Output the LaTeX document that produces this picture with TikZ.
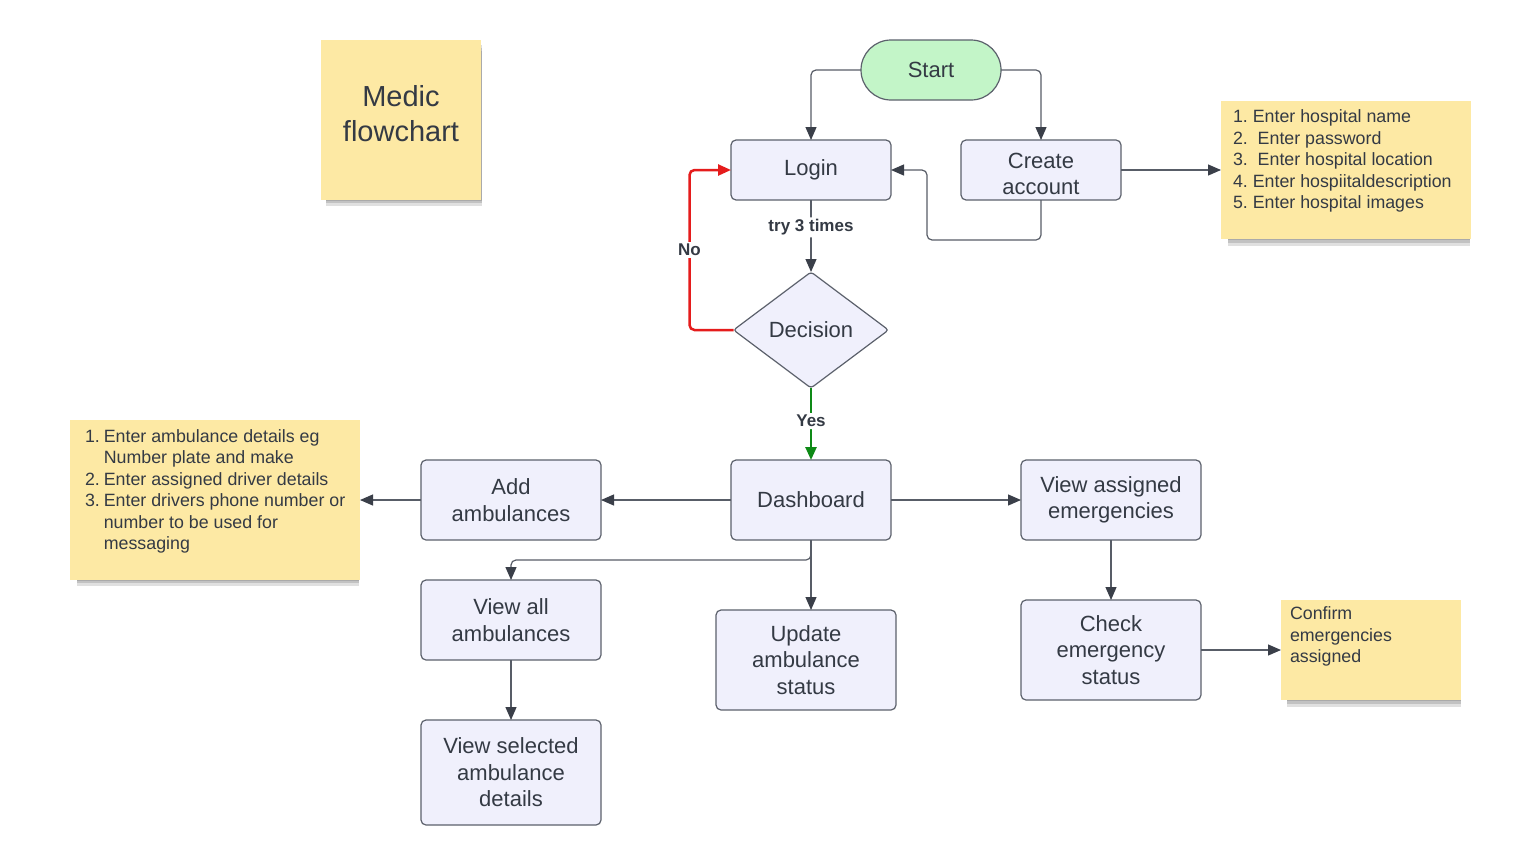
\documentclass[tikz,border=0pt]{standalone}
\usepackage{fontspec}
\setmainfont{Liberation Sans}
\usetikzlibrary{arrows.meta,positioning,shapes.geometric,shadows}
\definecolor{boxfill}{HTML}{F0F0FC}
\definecolor{boxline}{HTML}{5C616C}
\definecolor{lineclr}{HTML}{585D67}
\definecolor{tipclr}{HTML}{3A3F49}
\definecolor{textgray}{HTML}{343A44}
\definecolor{notefill}{HTML}{FDE9A4}
\definecolor{startfill}{HTML}{C3F5C8}
\definecolor{noline}{HTML}{E51C1C}
\definecolor{yesline}{HTML}{0E8A16}

\begin{document}
\begin{tikzpicture}[x=1pt,y=-1pt,>={Triangle[length=13pt,width=11pt,color=tipclr]},line width=1.2pt,
    main node/.style={rectangle,rounded corners=5pt,draw=boxline,fill=boxfill,text=textgray,outer sep=0pt,
      minimum width=180pt,minimum height=80pt,align=center,font=\fontsize{22}{26.5}\selectfont},
    start node/.style={main node,rounded corners=30pt,fill=startfill,minimum width=140pt,minimum height=60pt},
    decision node/.style={diamond,rounded corners=3pt,draw=boxline,fill=boxfill,text=textgray,outer sep=0pt,
      inner sep=0pt,minimum width=155pt,minimum height=116pt,font=\fontsize{22}{26.5}\selectfont},
    note node/.style={rectangle,fill=notefill,text=textgray,outer sep=0pt,inner xsep=12pt,inner ysep=7pt,
      font=\fontsize{17.8}{21.5}\selectfont,
      general shadow={shadow xshift=3pt,shadow yshift=-3pt,shadow scale=0.97,opacity=0.17,fill=black!80},
      general shadow={shadow xshift=3pt,shadow yshift=-6pt,shadow scale=0.97,opacity=0.17,fill=black!80},
      general shadow={shadow xshift=3pt,shadow yshift=-9pt,shadow scale=0.97,opacity=0.15,fill=black!80}},
    label node/.style={fill=white,text=textgray,inner sep=2pt,font=\fontsize{17}{20}\selectfont\bfseries},
    link/.style={draw=lineclr,->,rounded corners=5pt},
    bold link/.style={link,line width=2.5pt,-{Triangle[length=13pt,width=11pt]}}]
  \fill[white] (0,0) rectangle (1538,865);
  \useasboundingbox (0,0) rectangle (1538,865);

  \node[start node] (1) at (931,70) {Start};
  \node[main node,minimum width=160pt,minimum height=60pt] (2) at (811,170) {Login};
  \node[main node,minimum width=160pt,minimum height=60pt] (3) [right=70pt of 2]
    {\raisebox{-6pt}[\height][\depth]{\begin{tabular}{@{}c@{}}Create\\account\end{tabular}}};
  \node[decision node] (4) [below=72pt of 2] {Decision};
  \node[main node,minimum width=160pt] (5) [below=72pt of 4] {Dashboard};
  \node[main node] (6) [left=130pt of 5] {Add\\ambulances};
  \node[main node] (7) [right=130pt of 5] {View assigned\\emergencies};
  \node[main node] (8) [below=40pt of 6] {View all\\ambulances};
  \node[main node,minimum height=100pt] (9) at (806,660) {Update\\ambulance\\status};
  \node[main node,minimum height=105pt] (10) [below=60pt of 8] {View selected\\ambulance\\details};
  \node[main node,minimum height=100pt] (11) [below=60pt of 7] {Check\\emergency\\status};

  \node[note node,minimum width=160pt,minimum height=160pt,font=\fontsize{29}{35}\selectfont] (12) at (401,120)
    {\raisebox{3pt}[\height][\depth]{\begin{tabular}{@{}c@{}}Medic\\flowchart\end{tabular}}};
  \node[note node,inner ysep=9pt] (13) [right=100pt of 3] {\begin{minipage}[c][120pt][t]{226pt}
    1.\ Enter hospital name\\
    2.\ \ Enter password\\
    3.\ \ Enter hospital location\\
    4.\ Enter hospiitaldescription\\
    5.\ Enter hospital images
  \end{minipage}};
  \node[note node,inner xsep=15pt] (14) [left=61pt of 6] {\begin{minipage}[c][146pt][t]{260pt}
    \begin{tabular}{@{}r@{\hspace{4pt}}l@{}}
      1. & Enter ambulance details eg\\
         & Number plate and make\\
      2. & Enter assigned driver details\\
      3. & Enter drivers phone number or\\
         & number to be used for\\
         & messaging
    \end{tabular}
  \end{minipage}};
  \node[note node,inner xsep=9pt] (15) [right=80pt of 11] {\begin{minipage}[c][86pt][t]{162pt}
    Confirm\\
    emergencies\\
    assigned
  \end{minipage}};

  \path[link]
    (2) edge node[label node,pos=0.38] {try 3 times} (4)
    (3) edge (13)
    (5) edge (6)
        edge (7)
    (6) edge (14)
    (8) edge (10)
    (7) edge (11)
    (11) edge (15);
  \draw[bold link,draw=yesline] (4) -- node[label node,pos=0.46] {Yes} (5);
  \draw[bold link,draw=noline] (4.west) -- ++(-44,0) |- node[label node,pos=0.25] {No} (2.west);
  \draw[link] (1.west) -| (2.north);
  \draw[link] (1.east) -| (3.north);
  \draw[link] (3.south) -- ++(0,40) -| ([xshift=36pt]2.east) -- (2.east);
  \draw[link] (5.south) -- ++(0,20) -| (8.north);
  \draw[link] (5.south) -- (5.south |- 9.north);
\end{tikzpicture}
\end{document}
